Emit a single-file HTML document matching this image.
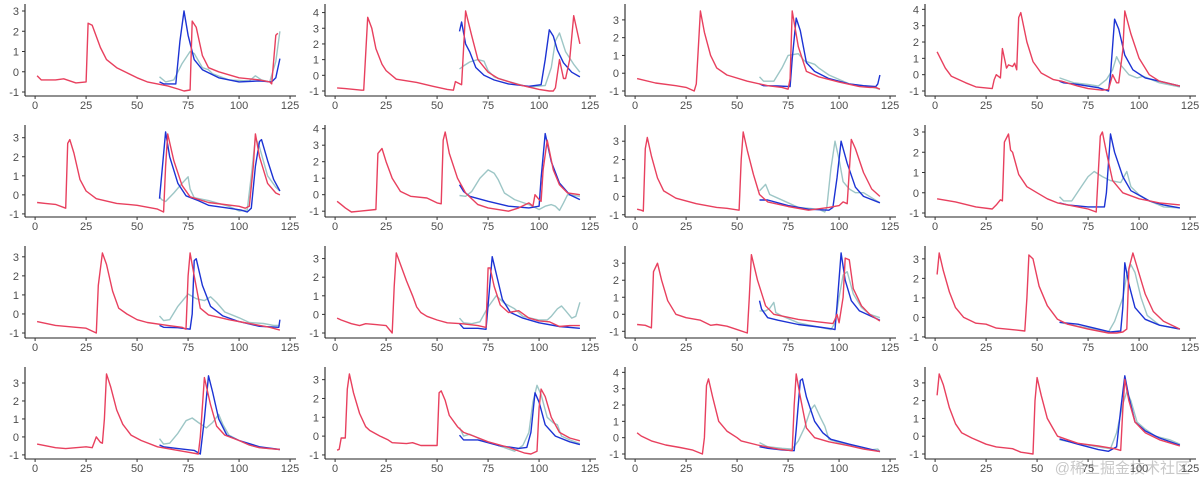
<!DOCTYPE html>
<html><head><meta charset="utf-8">
<style>
html,body{margin:0;padding:0;background:#fff;}
svg{display:block;font-family:"Liberation Sans","Noto Sans CJK SC",sans-serif;}
</style></head>
<body>
<svg id="chart" width="1200" height="485" viewBox="0 0 1200 485" xmlns="http://www.w3.org/2000/svg">
<text x="1190" y="473" text-anchor="end" font-size="15" fill="#c8c8c8">@稀土掘金技术社区</text>
</svg>
<script>
const xTicks = [0, 25, 50, 75, 100, 125];
const xDomain = [1, 120];
// Panel series: [x, y] pairs
const p1Red=[[1,-0.2],[3,-0.4],[10,-0.4],[14,-0.35],[20,-0.55],[25,-0.5],[26,2.4],[28,2.3],[32,1.2],[35,0.6],[40,0.2],[45,-0.05],[50,-0.3],[55,-0.5],[60,-0.6],[65,-0.7],[70,-0.85],[73,-0.95],[76,-0.9],[77,2.5],[79,2.2],[82,0.8],[85,0.2],[90,0],[100,-0.3],[110,-0.4],[115,-0.5],[116,-0.6],[118,1.8],[119,1.9]];
const p1Blue=[[61,-0.5],[63,-0.6],[67,-0.6],[69,-0.6],[71,1.5],[73,3.0],[75,1.8],[78,0.6],[82,0.1],[90,-0.3],[100,-0.5],[110,-0.45],[116,-0.5],[118,-0.3],[120,0.65]];
const p1Teal=[[61,-0.25],[64,-0.5],[68,-0.4],[72,0.4],[76,1.0],[78,0.9],[82,0.2],[85,0.1],[87,-0.1],[95,-0.4],[105,-0.45],[108,-0.2],[111,-0.4],[115,-0.5],[118,0.5],[120,2.0]];
const p2Red=[[1,-0.8],[5,-0.85],[13,-0.95],[14,-0.95],[16,3.7],[18,3.0],[20,1.7],[23,0.7],[25,0.3],[30,-0.25],[40,-0.45],[48,-0.7],[55,-0.9],[58,-0.95],[59,-0.4],[62,-0.6],[64,4.1],[67,2.5],[70,1.0],[75,0.2],[80,-0.2],[90,-0.6],[100,-0.9],[105,-1.0],[107,-1.0],[108,-0.8],[110,1.0],[112,-0.2],[113,-0.2],[115,1.0],[117,3.8],[118,3.2],[120,2.0]];
const p2Blue=[[61,2.8],[62,3.4],[64,2.0],[66,1.5],[69,0.5],[73,0.0],[78,-0.3],[85,-0.55],[95,-0.7],[101,-0.6],[103,1.0],[105,2.9],[107,2.5],[109,1.6],[112,0.8],[116,0.2],[120,-0.1]];
const p2Teal=[[61,0.4],[63,0.6],[66,0.85],[70,1.0],[73,0.9],[75,0.3],[78,-0.1],[85,-0.4],[95,-0.75],[103,-0.65],[106,0.5],[108,2.2],[110,2.7],[113,1.5],[117,0.7],[120,0.2]];
const p3Red=[[1,-0.3],[10,-0.55],[20,-0.7],[25,-0.8],[29,-1.0],[30,-0.6],[32,3.5],[34,2.3],[37,1.0],[40,0.3],[45,-0.1],[55,-0.45],[65,-0.7],[72,-0.8],[75,-0.9],[76,-0.3],[77,3.5],[80,1.5],[84,0.1],[90,-0.2],[100,-0.5],[110,-0.75],[115,-0.8],[118,-0.8],[120,-0.9]];
const p3Blue=[[61,-0.6],[63,-0.7],[70,-0.72],[76,-0.75],[77,0.8],[79,3.1],[81,2.4],[84,0.6],[88,0.1],[95,-0.3],[105,-0.6],[112,-0.7],[118,-0.75],[119,-0.6],[120,-0.1]];
const p3Teal=[[61,-0.2],[63,-0.45],[68,-0.45],[72,0.3],[75,1.0],[80,1.1],[83,0.7],[88,0.5],[90,0.3],[95,-0.1],[105,-0.6],[115,-0.75],[120,-0.9]];
const p4Red=[[1,1.4],[5,0.4],[8,-0.1],[15,-0.5],[20,-0.75],[28,-0.85],[29,-0.3],[30,0],[32,-0.2],[33,1.6],[35,0.4],[36,0.6],[38,0.5],[39,0.7],[40,0.3],[41,3.5],[42,3.8],[45,2.0],[48,0.8],[52,0.1],[58,-0.3],[62,-0.4],[70,-0.7],[75,-0.85],[82,-0.95],[85,-0.9],[87,0],[89,-0.5],[90,-0.5],[92,1.5],[93,3.9],[96,2.5],[100,1.0],[105,0],[110,-0.4],[120,-0.7]];
const p4Blue=[[61,-0.4],[63,-0.5],[70,-0.6],[80,-0.8],[85,-1.0],[86,0],[88,3.4],[90,2.8],[93,1.2],[97,0.3],[103,-0.2],[110,-0.4],[120,-0.7]];
const p4Teal=[[61,-0.2],[68,-0.5],[75,-0.6],[80,-0.7],[84,-0.3],[87,0.3],[89,1.1],[91,0.6],[95,0],[99,-0.2],[102,-0.1],[110,-0.5],[120,-0.75]];
const p5Red=[[1,-0.4],[5,-0.45],[10,-0.5],[15,-0.7],[16,2.7],[17,2.9],[19,2.2],[22,0.8],[25,0.2],[30,-0.2],[40,-0.45],[50,-0.55],[60,-0.75],[63,-0.9],[64,1.5],[65,3.2],[68,1.8],[72,0.5],[76,-0.1],[85,-0.4],[100,-0.6],[103,-0.7],[105,-0.6],[107,1.5],[108,3.2],[110,2.0],[114,0.6],[118,0.1],[120,0]];
const p5Blue=[[61,-0.2],[62,1.0],[64,3.3],[66,2.0],[70,0.6],[74,-0.05],[80,-0.3],[85,-0.55],[95,-0.7],[101,-0.8],[104,-0.9],[106,-0.7],[108,1.5],[110,2.8],[111,2.9],[114,1.8],[117,0.8],[120,0.2]];
const p5Teal=[[61,-0.1],[62,-0.25],[64,-0.35],[68,0.1],[72,0.6],[75,0.95],[76,0.3],[78,-0.15],[85,-0.3],[95,-0.6],[100,-0.85],[104,-0.8],[106,1.0],[108,3.0],[110,2.5],[114,1.0],[118,0.4],[120,0.2]];
const p6Red=[[1,-0.4],[3,-0.6],[5,-0.8],[8,-1.05],[12,-1.0],[20,-0.9],[21,2.5],[23,2.8],[25,2.0],[28,1.0],[32,0.2],[37,-0.1],[45,-0.2],[50,-0.5],[52,-0.55],[53,3.3],[54,3.8],[56,2.5],[60,1.0],[64,0.1],[70,-0.6],[75,-0.8],[85,-1.0],[90,-0.8],[95,-0.5],[97,-0.7],[98,0.0],[100,-0.3],[101,-0.4],[102,1.5],[104,3.3],[107,1.5],[110,0.6],[114,0.1],[120,0]];
const p6Blue=[[61,0.6],[63,0.2],[66,-0.1],[75,-0.4],[85,-0.7],[95,-0.8],[100,-0.7],[101,1.0],[103,3.7],[106,2.0],[110,0.7],[115,0],[120,-0.3]];
const p6Teal=[[61,-0.05],[64,-0.1],[67,0.2],[71,1.0],[75,1.5],[78,1.3],[80,0.9],[83,0.1],[88,-0.3],[95,-0.6],[100,-0.9],[103,-0.7],[106,-0.6],[108,-0.7],[110,-0.95],[112,-0.5],[114,0],[120,-0.1]];
const p7Red=[[1,-0.7],[3,-0.75],[4,-0.8],[5,2.6],[6,3.2],[8,2.2],[11,1.0],[14,0.3],[20,-0.1],[30,-0.4],[40,-0.6],[45,-0.65],[51,-0.75],[52,2.0],[53,3.5],[55,2.5],[58,1.2],[61,0.1],[65,-0.3],[75,-0.55],[85,-0.75],[95,-0.6],[100,-0.5],[102,-0.3],[104,-0.4],[106,3.1],[108,2.6],[112,1.3],[116,0.4],[120,0]];
const p7Blue=[[61,-0.2],[65,-0.2],[75,-0.5],[85,-0.7],[95,-0.75],[97,-0.6],[99,1.0],[101,3.0],[104,1.8],[108,0.5],[112,0.0],[120,-0.35]];
const p7Teal=[[61,0.3],[64,0.65],[66,0.1],[70,-0.1],[80,-0.6],[90,-0.7],[93,-0.85],[94,-0.6],[96,1.5],[98,3.0],[100,2.0],[102,0.8],[105,0.4],[108,0.2],[112,0.2],[120,-0.35]];
const p8Red=[[1,-0.3],[10,-0.45],[20,-0.7],[28,-0.8],[30,-0.6],[32,-0.35],[33,-0.4],[34,2.5],[36,2.9],[37,2.1],[38,2.0],[41,0.9],[45,0.3],[50,0],[55,-0.3],[60,-0.5],[70,-0.7],[75,-0.8],[79,-0.95],[80,1.0],[81,2.8],[82,3.0],[84,2.0],[87,0.6],[92,0],[100,-0.3],[110,-0.5],[120,-0.6]];
const p8Blue=[[61,-0.5],[65,-0.6],[75,-0.7],[83,-0.7],[84,0],[86,2.9],[88,2.0],[92,0.8],[96,0.1],[105,-0.4],[112,-0.6],[120,-0.75]];
const p8Teal=[[61,-0.2],[63,-0.4],[67,-0.4],[71,0.2],[75,0.8],[78,1.05],[82,0.8],[86,0.6],[91,0.5],[94,1.05],[96,0.3],[100,-0.1],[105,-0.4],[112,-0.7],[120,-0.75]];
const p9Red=[[1,-0.4],[10,-0.6],[20,-0.7],[25,-0.75],[30,-1.0],[31,1.5],[33,3.2],[35,2.6],[38,1.2],[41,0.3],[45,0.0],[50,-0.3],[55,-0.45],[65,-0.6],[72,-0.7],[74,-0.8],[75,2.0],[76,3.2],[78,2.0],[81,0.3],[85,-0.05],[95,-0.3],[105,-0.5],[115,-0.7],[120,-0.85]];
const p9Blue=[[61,-0.6],[63,-0.7],[70,-0.72],[76,-0.8],[77,0],[78,2.8],[79,2.9],[82,1.5],[86,0.4],[92,-0.1],[100,-0.4],[110,-0.65],[119.5,-0.7],[120,-0.3]];
const p9Teal=[[61,-0.1],[63,-0.35],[66,-0.3],[70,0.4],[75,1.05],[79,0.8],[83,0.7],[86,0.9],[89,0.6],[93,0.1],[100,-0.2],[105,-0.45],[112,-0.5],[117,-0.6],[120,-0.6]];
const p10Red=[[1,-0.2],[3,-0.3],[8,-0.5],[12,-0.6],[15,-0.5],[20,-0.55],[25,-0.6],[28,-1.0],[29,1.5],[30,3.3],[32,2.7],[35,1.8],[38,1.0],[40,0.4],[42,0.1],[45,-0.1],[50,-0.3],[55,-0.45],[62,-0.5],[70,-0.6],[74,-0.7],[75,2.5],[76,2.5],[78,1.5],[81,0.5],[85,0.1],[90,0.2],[95,-0.2],[100,-0.35],[105,-0.4],[110,-0.65],[115,-0.6],[120,-0.6]];
const p10Blue=[[61,-0.5],[63,-0.75],[70,-0.75],[74,-0.8],[75,0.5],[77,3.1],[79,2.2],[82,0.8],[86,0.1],[92,-0.2],[100,-0.45],[110,-0.65],[120,-0.75]];
const p10Teal=[[61,-0.2],[63,-0.45],[67,-0.5],[71,-0.4],[75,0.4],[79,1.0],[83,0.6],[88,0.3],[92,-0.1],[100,-0.3],[104,-0.3],[106,-0.1],[109,0.3],[111,0.45],[113,0.2],[116,-0.2],[118,-0.1],[120,0.65]];
const p11Red=[[1,-0.6],[5,-0.65],[8,-0.8],[9,2.5],[11,3.0],[13,2.0],[16,0.8],[20,0],[25,-0.2],[32,-0.35],[37,-0.65],[40,-0.6],[45,-0.7],[50,-0.9],[55,-1.1],[56,1.0],[57,3.5],[60,2.0],[64,0.5],[68,0],[80,-0.3],[90,-0.45],[97,-0.55],[98,-0.3],[99,0],[100,-0.5],[102,1.0],[103,3.3],[105,3.2],[107,1.5],[111,0.5],[115,0],[120,-0.4]];
const p11Blue=[[61,0.8],[62,0.3],[65,-0.2],[70,-0.35],[80,-0.6],[90,-0.75],[96,-0.85],[98,-0.9],[99,0.5],[101,3.6],[103,2.0],[106,0.8],[110,0.2],[120,-0.35]];
const p11Teal=[[61,0.2],[64,0.2],[66,0.35],[68,0.7],[69,0.1],[72,-0.1],[80,-0.5],[90,-0.75],[96,-0.9],[98,-0.5],[100,1.0],[102,2.3],[104,2.5],[107,1.2],[111,0.4],[115,0],[120,-0.2]];
const p12Red=[[1,2.2],[2,3.3],[4,2.4],[7,1.3],[10,0.5],[14,0],[18,-0.2],[20,-0.3],[25,-0.35],[30,-0.55],[40,-0.65],[44,-0.7],[45,1.0],[46,3.2],[48,3.0],[51,1.6],[55,0.6],[60,-0.1],[65,-0.35],[75,-0.6],[85,-0.8],[89,-0.8],[92,-0.75],[94,-0.6],[95,2.5],[97,3.3],[99,2.6],[103,1.2],[107,0.3],[112,-0.2],[118,-0.5],[120,-0.6]];
const p12Blue=[[61,-0.25],[70,-0.35],[80,-0.6],[86,-0.75],[91,-0.7],[92,0.5],[93,2.8],[95,1.7],[98,0.5],[103,-0.1],[110,-0.4],[120,-0.6]];
const p12Teal=[[61,-0.25],[70,-0.45],[80,-0.65],[85,-0.75],[88,-0.2],[90,0.4],[92,1.0],[94,2.2],[96,2.7],[98,2.3],[101,1.0],[104,0.1],[110,-0.4],[120,-0.6]];
const p13Red=[[1,-0.4],[10,-0.6],[15,-0.65],[20,-0.6],[25,-0.55],[28,-0.6],[30,0],[32,-0.3],[33,-0.35],[34,1.0],[35,3.5],[37,2.8],[40,1.5],[43,0.7],[47,0.1],[52,-0.2],[60,-0.55],[70,-0.75],[75,-0.85],[80,-0.95],[81,0],[83,3.3],[86,1.8],[89,0.6],[93,0.1],[100,-0.2],[105,-0.45],[110,-0.6],[120,-0.7]];
const p13Blue=[[61,-0.45],[63,-0.55],[70,-0.65],[78,-0.75],[81,-0.95],[83,1.0],[85,3.4],[87,2.5],[90,1.0],[94,0.1],[100,-0.2],[110,-0.55],[120,-0.7]];
const p13Teal=[[61,-0.1],[63,-0.4],[66,-0.35],[70,0.2],[74,0.9],[77,1.05],[80,0.8],[84,0.5],[87,0.8],[90,1.25],[92,0.7],[95,0.1],[100,-0.2],[105,-0.45],[110,-0.6],[120,-0.7]];
const p14Red=[[1,-0.75],[2,-0.7],[3,-0.1],[5,-0.1],[6,2.5],[7,3.3],[9,2.3],[12,1.2],[15,0.5],[17,0.3],[22,0.0],[26,-0.2],[28,-0.35],[35,-0.4],[38,-0.35],[42,-0.5],[50,-0.5],[51,2.3],[52,2.4],[54,1.9],[56,1.1],[60,0.5],[63,0.2],[68,0],[75,-0.3],[85,-0.6],[93,-0.9],[96,-0.95],[99,-0.8],[100,1.5],[101,2.5],[103,2.1],[106,1.0],[110,0.2],[115,-0.1],[120,-0.25]];
const p14Blue=[[61,0.05],[63,-0.2],[70,-0.2],[80,-0.5],[90,-0.65],[94,-0.6],[96,0.2],[98,2.3],[100,1.8],[103,0.6],[108,0],[115,-0.3],[120,-0.45]];
const p14Teal=[[61,0.45],[63,0],[66,0.1],[72,-0.2],[80,-0.5],[88,-0.8],[92,-0.5],[95,0.2],[97,1.8],[99,2.7],[101,2.2],[104,1.0],[107,0.7],[109,0.6],[111,0],[115,-0.2],[120,-0.4]];
const p15Red=[[1,0.3],[3,0.1],[8,-0.2],[15,-0.45],[22,-0.6],[28,-0.75],[33,-1.0],[34,0],[35,3.2],[36,3.6],[38,2.5],[41,1.0],[45,0.4],[50,0],[52,-0.2],[60,-0.45],[70,-0.7],[77,-0.8],[78,2.0],[79,3.9],[81,2.5],[84,0.6],[88,0],[95,-0.25],[105,-0.5],[112,-0.7],[120,-0.85]];
const p15Blue=[[61,-0.55],[65,-0.65],[72,-0.75],[78,-0.8],[79,0.5],[81,3.5],[82,3.6],[84,2.5],[88,1.0],[92,0.3],[96,-0.1],[105,-0.4],[112,-0.6],[120,-0.85]];
const p15Teal=[[61,-0.3],[65,-0.55],[72,-0.65],[77,-0.7],[80,-0.2],[83,0.6],[86,1.7],[88,2.0],[91,1.2],[93,0.7],[95,-0.1],[100,-0.3],[108,-0.55],[115,-0.75],[119,-0.7],[120,-0.85]];
const p16Red=[[1,2.3],[2,3.5],[4,2.9],[7,1.6],[10,0.7],[13,0.2],[18,-0.1],[25,-0.45],[30,-0.6],[38,-0.7],[42,-0.9],[45,-0.95],[48,-1.0],[49,2.0],[50,3.3],[52,2.3],[55,1.0],[58,0.4],[60,0.0],[65,-0.2],[70,-0.4],[80,-0.55],[88,-0.7],[91,-0.8],[92,1.5],[93,3.2],[95,2.0],[98,0.8],[103,0.2],[110,-0.2],[120,-0.55]];
const p16Blue=[[61,-0.15],[70,-0.45],[80,-0.75],[85,-0.85],[89,-0.6],[91,1.5],[93,3.4],[95,2.2],[98,0.8],[103,0.3],[110,-0.1],[120,-0.5]];
const p16Teal=[[61,-0.2],[70,-0.4],[80,-0.6],[86,-0.7],[89,0.2],[92,1.8],[94,2.5],[96,2.0],[99,0.8],[103,0.4],[108,0],[115,-0.2],[120,-0.45]];

const panels=[
 [p1Red,p1Blue,p1Teal],[p2Red,p2Blue,p2Teal],[p3Red,p3Blue,p3Teal],[p4Red,p4Blue,p4Teal],
 [p5Red,p5Blue,p5Teal],[p6Red,p6Blue,p6Teal],[p7Red,p7Blue,p7Teal],[p8Red,p8Blue,p8Teal],
 [p9Red,p9Blue,p9Teal],[p10Red,p10Blue,p10Teal],[p11Red,p11Blue,p11Teal],[p12Red,p12Blue,p12Teal],
 [p13Red,p13Blue,p13Teal],[p14Red,p14Blue,p14Teal],[p15Red,p15Blue,p15Teal],[p16Red,p16Blue,p16Teal]
];
const seriesNames=['observed','forecast-a','forecast-b'];
const seriesColors=['#e8405e','#1c33d4','#9dc6c6'];

const svg=document.getElementById('chart');
const NS='http://www.w3.org/2000/svg';
function mk(tag,attrs,parent){const e=document.createElementNS(NS,tag);for(const k in attrs)e.setAttribute(k,attrs[k]);parent.appendChild(e);return e;}

panels.forEach((series,i)=>{
  const col=i%4,row=Math.floor(i/4);
  const ox=col*300, oy=row*121;
  const g=mk('g',{},svg);
  
  
  const L=ox+25,R=ox+292,T=oy+7,B=oy+95;
  const xpad=(xDomain[1]-xDomain[0])*0.05;
  const x0=xDomain[0]-xpad,x1=xDomain[1]+xpad;
  let mn=Infinity,mx=-Infinity;
  series.forEach(s=>s.forEach(p=>{mn=Math.min(mn,p[1]);mx=Math.max(mx,p[1]);}));
  const ypad=(mx-mn)*0.05; const y0=mn-ypad,y1=mx+ypad;
  const sx=v=>L+(v-x0)/(x1-x0)*(R-L);
  const sy=v=>B-(v-y0)/(y1-y0)*(B-T);
  // axes
  const ya=mk('line',{x1:L,y1:oy+4,x2:L,y2:B+1,stroke:'#222','stroke-width':1.1},g);
  
  
  const xa=mk('line',{x1:L,y1:B+1,x2:ox+296,y2:B+1,stroke:'#222','stroke-width':1.1},g);
  
  
  xTicks.forEach(t=>{
    const x=sx(t);
    mk('line',{x1:x,y1:B+1,x2:x,y2:B+4,stroke:'#333','stroke-width':1},g);
    const tx=mk('text',{x:x,y:B+14,'text-anchor':'middle','font-size':11,fill:'#4d4d4d'},g);
    tx.textContent=t;
    
    
  });
  for(let t=Math.ceil(y0);t<=Math.floor(y1);t++){
    const y=sy(t);
    mk('line',{x1:L-3,y1:y,x2:L,y2:y,stroke:'#333','stroke-width':1},g);
    const ty=mk('text',{x:L-6,y:y+4,'text-anchor':'end','font-size':11,fill:'#4d4d4d'},g);
    ty.textContent=t;
    
    
  }
  [2,1,0].forEach(k=>{
    const pts=series[k].map(p=>sx(p[0]).toFixed(1)+','+sy(p[1]).toFixed(1)).join(' ');
    const pl=mk('polyline',{points:pts,fill:'none',stroke:seriesColors[k],'stroke-width':1.4,'stroke-linejoin':'round'},g);
    
    
  });
});
</script>
</body></html>
